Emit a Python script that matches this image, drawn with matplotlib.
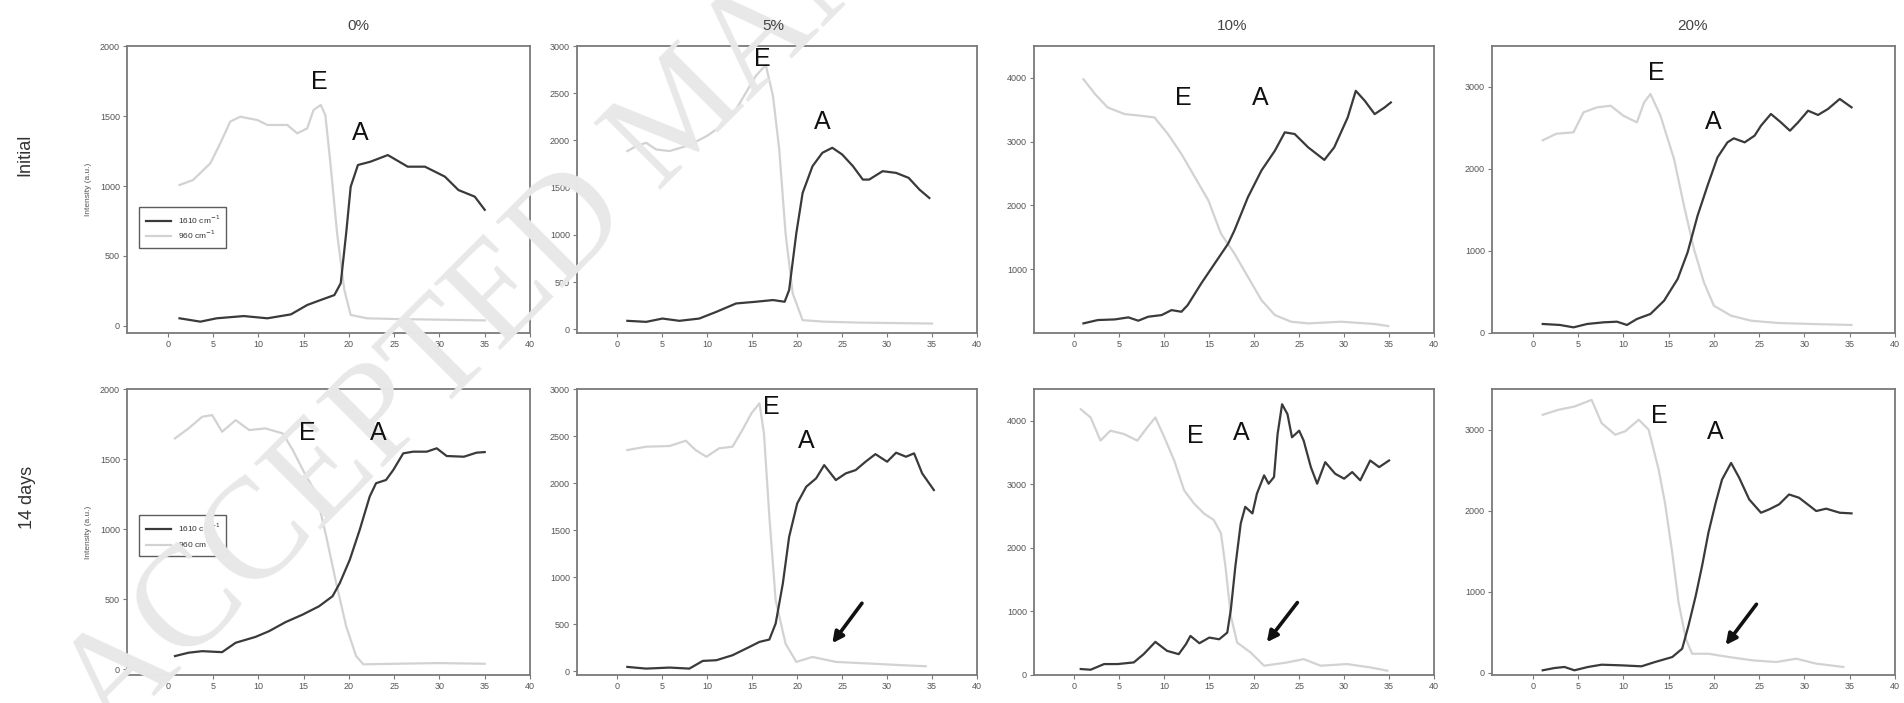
import matplotlib
matplotlib.use("Agg")
import matplotlib.pyplot as plt

plt.rcParams['font.family'] = ['Liberation Sans', 'DejaVu Sans']

# ---------------- data ----------------
col_titles = ["0%", "5%", "10%", "20%"]
row_titles = ["Initial", "14 days"]
legend_labels = ["1610 cm$^{-1}$", "960 cm$^{-1}$"]

# Initial, 0%
x_i0_d = [1.3, 3.6, 5.4, 8.4, 11, 13.6, 15.4, 16.9, 18.4, 19.1, 19.7, 20.2, 21, 22.4, 24.3, 26.5, 28.4, 30.6, 32.1, 33.9, 35]
y_i0_d = [55, 31, 55, 71, 55, 83, 150, 186, 221, 305, 662, 995, 1150, 1174, 1221, 1138, 1138, 1067, 971, 924, 830]
x_i0_l = [1.3, 2.8, 4.7, 5.8, 6.9, 8, 9.9, 11, 13.2, 14.3, 15.4, 16.1, 16.9, 17.4, 18, 18.7, 19.5, 20.2, 22, 25, 30, 35]
y_i0_l = [1007, 1043, 1162, 1305, 1460, 1495, 1471, 1436, 1436, 1376, 1412, 1543, 1579, 1507, 1138, 662, 257, 79, 55, 50, 45, 40]

# Initial, 5%
x_i5_d = [1.1, 3.2, 5, 6.9, 9.1, 11, 13.2, 15.4, 17.3, 18.6, 19.1, 19.9, 20.6, 21.7, 22.8, 23.9, 25, 26.2, 27.3, 28, 29.5, 31, 32.4, 33.6, 34.7]
y_i5_d = [89, 78, 113, 89, 113, 184, 273, 291, 309, 291, 415, 1018, 1443, 1727, 1869, 1922, 1851, 1727, 1585, 1585, 1674, 1656, 1603, 1479, 1390]
x_i5_l = [1.1, 2.1, 3.2, 4.3, 5.8, 8, 10, 11.5, 13.2, 15.4, 16.5, 17.3, 18, 18.7, 19.5, 20.6, 23, 27, 31, 35]
y_i5_l = [1887, 1940, 1975, 1904, 1887, 1950, 2050, 2150, 2330, 2684, 2800, 2472, 1904, 1018, 379, 96, 80, 70, 65, 60]

# Initial, 10%
x_i10_d = [1, 2.6, 4.5, 6, 7.1, 8.2, 9.7, 10.8, 11.9, 12.6, 14.1, 15.6, 17.1, 17.8, 19.3, 20.8, 22.3, 23.4, 24.5, 26, 27.8, 28.9, 30.4, 31.3, 32.3, 33.4, 34.5, 35.2]
y_i10_d = [151, 203, 213, 245, 193, 255, 281, 359, 333, 438, 776, 1089, 1401, 1609, 2130, 2547, 2859, 3146, 3120, 2911, 2714, 2911, 3380, 3797, 3641, 3432, 3536, 3615]
x_i10_l = [1, 2.3, 3.7, 5.6, 7.4, 8.9, 10.4, 11.9, 13.4, 14.9, 16.3, 17.8, 19.3, 20.8, 22.3, 24.1, 26, 29.7, 33.4, 34.9]
y_i10_l = [3979, 3745, 3536, 3432, 3406, 3380, 3120, 2807, 2443, 2078, 1557, 1245, 880, 516, 281, 177, 151, 177, 141, 109]

# Initial, 20%
x_i20_d = [1.1, 3, 4.5, 6, 7.8, 9.3, 10.4, 11.5, 13, 14.5, 16, 17.1, 18.2, 19.3, 20.4, 21.5, 22.2, 23.4, 24.5, 25.2, 26.3, 27.4, 28.4, 29.3, 30.4, 31.5, 32.6, 33.9, 35.2]
y_i20_d = [110, 98, 69, 110, 130, 138, 98, 171, 232, 394, 659, 984, 1431, 1797, 2142, 2325, 2374, 2325, 2407, 2528, 2671, 2569, 2467, 2569, 2711, 2659, 2732, 2854, 2752]
x_i20_l = [1.1, 2.6, 4.5, 5.6, 7.1, 8.6, 10, 11.5, 12.3, 13, 14.1, 15.6, 16.7, 17.8, 18.9, 20, 21.9, 24.1, 27.1, 30.8, 35.2]
y_i20_l = [2350, 2430, 2447, 2691, 2752, 2772, 2650, 2569, 2813, 2915, 2650, 2122, 1553, 1024, 618, 333, 211, 150, 122, 110, 98]

# 14 days, 0%
x_d0_d = [0.8, 2.3, 3.8, 6, 7.5, 9.7, 11.2, 13, 14.9, 16.7, 18.2, 19, 20.1, 21.2, 22.3, 23, 24.1, 24.9, 26, 27.1, 28.6, 29.7, 30.8, 32.7, 34.1, 35]
y_d0_d = [95, 119, 130, 123, 190, 232, 273, 337, 391, 450, 522, 616, 782, 996, 1233, 1328, 1351, 1422, 1541, 1553, 1553, 1577, 1522, 1517, 1546, 1550]
x_d0_l = [0.8, 2.3, 3.8, 4.9, 6, 7.5, 9, 10.8, 12.7, 13.8, 15.3, 16.4, 17.5, 18.6, 19.7, 20.8, 21.6, 25, 30, 35]
y_d0_l = [1648, 1719, 1802, 1814, 1695, 1778, 1707, 1719, 1683, 1565, 1375, 1256, 948, 616, 308, 95, 36, 40, 45, 40]

# 14 days, 5%
x_d5_d = [1.1, 3.2, 5.8, 8, 9.5, 11, 12.8, 14.7, 15.8, 16.9, 17.6, 18.4, 19.1, 20, 21, 22.1, 23, 24.3, 25.4, 26.5, 27.6, 28.7, 30, 31, 32.1, 33, 33.9, 35.2]
y_d5_d = [46, 28, 39, 28, 110, 117, 170, 259, 312, 337, 507, 933, 1429, 1784, 1961, 2050, 2191, 2032, 2103, 2138, 2227, 2308, 2227, 2323, 2280, 2316, 2103, 1926]
x_d5_l = [1.1, 3.2, 5.8, 7.6, 8.7, 9.9, 11.3, 12.8, 13.9, 14.9, 15.8, 16.3, 16.9, 17.6, 18.7, 19.9, 21.7, 24.3, 28, 31.7, 34.3]
y_d5_l = [2351, 2387, 2394, 2450, 2351, 2280, 2369, 2387, 2564, 2741, 2848, 2528, 1642, 755, 294, 99, 152, 99, 82, 64, 53]

# 14 days, 10%
x_d10_d = [0.7, 1.8, 3.3, 4.8, 6.6, 7.7, 9, 10.3, 11.6, 12.4, 12.9, 13.9, 15, 16.1, 17, 17.4, 17.9, 18.5, 19, 19.8, 20.3, 21.1, 21.6, 22.2, 22.6, 23.1, 23.7, 24.2, 25, 25.5, 26.3, 27, 27.9, 29, 30, 30.9, 31.8, 32.9, 33.9, 35]
y_d10_d = [94, 83, 172, 172, 198, 328, 521, 380, 328, 484, 615, 500, 589, 562, 667, 1031, 1708, 2385, 2646, 2542, 2854, 3141, 3010, 3115, 3792, 4260, 4104, 3740, 3844, 3688, 3271, 3010, 3349, 3167, 3089, 3193, 3063, 3375, 3271, 3375]
x_d10_l = [0.7, 1.8, 2.9, 4, 5.5, 7, 8.1, 9, 10, 11.1, 12.2, 13.3, 14.4, 15.5, 16.3, 16.8, 17.4, 18.1, 19.6, 21.1, 23.7, 25.5, 27.4, 30.3, 32.9, 34.8]
y_d10_l = [4182, 4052, 3688, 3844, 3792, 3688, 3896, 4052, 3740, 3375, 2906, 2698, 2542, 2438, 2229, 1708, 927, 510, 354, 146, 198, 250, 146, 172, 120, 68]

# 14 days, 20%
x_d20_d = [1.1, 2.4, 3.5, 4.6, 6.1, 7.6, 9.8, 12, 13.5, 15.4, 16.5, 17.2, 18, 18.7, 19.4, 20.2, 20.9, 21.9, 22.8, 23.9, 25.2, 26.1, 27.2, 28.3, 29.4, 30.6, 31.3, 32.4, 33.9, 35.2]
y_d20_d = [33, 61, 74, 33, 74, 102, 94, 82, 135, 196, 299, 585, 953, 1321, 1730, 2098, 2384, 2589, 2405, 2139, 1975, 2016, 2078, 2200, 2160, 2057, 1996, 2025, 1975, 1967]
x_d20_l = [1.1, 2.8, 4.6, 6.5, 7.6, 9.1, 10.2, 11.7, 12.8, 13.9, 14.6, 15.4, 16.1, 16.9, 17.6, 19.4, 21.7, 24.3, 26.9, 29.1, 31.3, 34.3]
y_d20_l = [3182, 3243, 3284, 3366, 3080, 2937, 2978, 3121, 2998, 2507, 2098, 1485, 871, 421, 237, 237, 196, 155, 135, 176, 115, 74]

# axis settings per panel (row-major)
ylims = [(-50, 2000), (-40, 3000), (0, 4500), (0, 3500),
         (-40, 2000), (-40, 3000), (0, 4500), (-25, 3500)]
yticks = [[0, 500, 1000, 1500, 2000], [0, 500, 1000, 1500, 2000, 2500, 3000],
          [1000, 2000, 3000, 4000], [0, 1000, 2000, 3000],
          [0, 500, 1000, 1500, 2000], [0, 500, 1000, 1500, 2000, 2500, 3000],
          [0, 1000, 2000, 3000, 4000], [0, 1000, 2000, 3000]]
xticks = [0, 5, 10, 15, 20, 25, 30, 35, 40]

# E / A label positions (data coords)
E_pos = [(16.7, 1743), (16.1, 2862), (12.1, 3687), (13.6, 3170),
         (15.4, 1686), (17.1, 2808), (13.4, 3766), (14.0, 3166)]
A_pos = [(21.3, 1379), (22.8, 2191), (20.7, 3690), (19.9, 2573),
         (23.2, 1686), (21.0, 2447), (18.6, 3812), (20.2, 2969)]
# arrows (tail, head) in bottom row, panels 5%, 10%, 20%
arrows = {5: ((27.2, 723), (23.9, 298)),
          6: ((24.8, 1140), (21.4, 516)),
          7: ((24.7, 847), (21.3, 344))}

dark = [(x_i0_d, y_i0_d), (x_i5_d, y_i5_d), (x_i10_d, y_i10_d), (x_i20_d, y_i20_d),
        (x_d0_d, y_d0_d), (x_d5_d, y_d5_d), (x_d10_d, y_d10_d), (x_d20_d, y_d20_d)]
light = [(x_i0_l, y_i0_l), (x_i5_l, y_i5_l), (x_i10_l, y_i10_l), (x_i20_l, y_i20_l),
         (x_d0_l, y_d0_l), (x_d5_l, y_d5_l), (x_d10_l, y_d10_l), (x_d20_l, y_d20_l)]

# ---------------- figure ----------------
W, H = 1904, 703
fig = plt.figure(figsize=(W / 100, H / 100), dpi=100)

col_px = [(127, 530), (577, 977), (1034, 1434), (1492, 1895)]
row_px = [(46, 333), (389, 675)]

dark_c = '#3a3a3a'
light_c = '#d2d2d2'
frame_c = '#7a7a7a'
tick_c = '#555555'

axes = []
for r in range(2):
    for c in range(4):
        i = r * 4 + c
        l, rt = col_px[c]
        t, b = row_px[r]
        ax = fig.add_axes([l / W, 1 - b / H, (rt - l) / W, (b - t) / H])
        axes.append(ax)
        ax.plot(light[i][0], light[i][1], color=light_c, lw=1.6, label=legend_labels[1], zorder=2)
        ax.plot(dark[i][0], dark[i][1], color=dark_c, lw=1.6, label=legend_labels[0], zorder=3)
        ax.set_xlim(-4.5, 40)
        ax.set_ylim(*ylims[i])
        ax.set_xticks(xticks)
        ax.set_yticks(yticks[i])
        ax.tick_params(direction='out', length=3, width=0.8, color=frame_c,
                       labelsize=6.5, labelcolor=tick_c, pad=2)
        for s in ax.spines.values():
            s.set_color(frame_c)
            s.set_linewidth(1.3)
        # E / A labels and arrows are drawn at figure level so they sit above the watermark
        fig.text(*E_pos[i], "E", transform=ax.transData, fontsize=18, ha='center',
                 va='center', color='#111111', zorder=5)
        fig.text(*A_pos[i], "A", transform=ax.transData, fontsize=18, ha='center',
                 va='center', color='#111111', zorder=5)
        if i in arrows:
            tail, head = arrows[i]
            ax.annotate('', xy=head, xytext=tail,
                        arrowprops=dict(arrowstyle='-|>', lw=2.6, color='#111111',
                                        mutation_scale=16, shrinkA=0, shrinkB=0), zorder=6)
        if c == 0:
            ax.set_ylabel("Intensity (a.u.)", fontsize=6, color=tick_c, labelpad=6)
            h, lab = ax.get_legend_handles_labels()
            leg = ax.legend([h[1], h[0]], [lab[1], lab[0]],
                            loc='upper left',
                            bbox_to_anchor=(0.02, 0.455 if r == 0 else 0.575),
                            fontsize=6, frameon=True, fancybox=False,
                            handlelength=3, borderpad=0.8, labelspacing=0.4)
            leg.get_frame().set_edgecolor('#333333')
            leg.get_frame().set_linewidth(1.0)
            for t_ in leg.get_texts():
                t_.set_color('#333333')

# watermark (drawn over the panels, under the figure titles and labels)
fig.text(110 / W, 1 - 740 / H, "ACCEPTED MANUSCRIPT", rotation=45, rotation_mode='anchor',
         ha='left', va='baseline', fontsize=103, family='Liberation Serif',
         color='#e8e8e8', zorder=1)

# column titles
col_x = [358, 773, 1232, 1693]
for cx, txt in zip(col_x, col_titles):
    fig.text(cx / W, 1 - 26 / H, txt, ha='center', va='center', fontsize=11,
             color='#444444', zorder=4)

# row titles
fig.text(25 / W, 1 - 155 / H, row_titles[0], rotation=90, ha='center', va='center',
         fontsize=13, color='#333333', zorder=4)
fig.text(27 / W, 1 - 497 / H, row_titles[1], rotation=90, ha='center', va='center',
         fontsize=13, color='#333333', zorder=4)

fig.savefig("out.png", dpi=100, facecolor='white')
